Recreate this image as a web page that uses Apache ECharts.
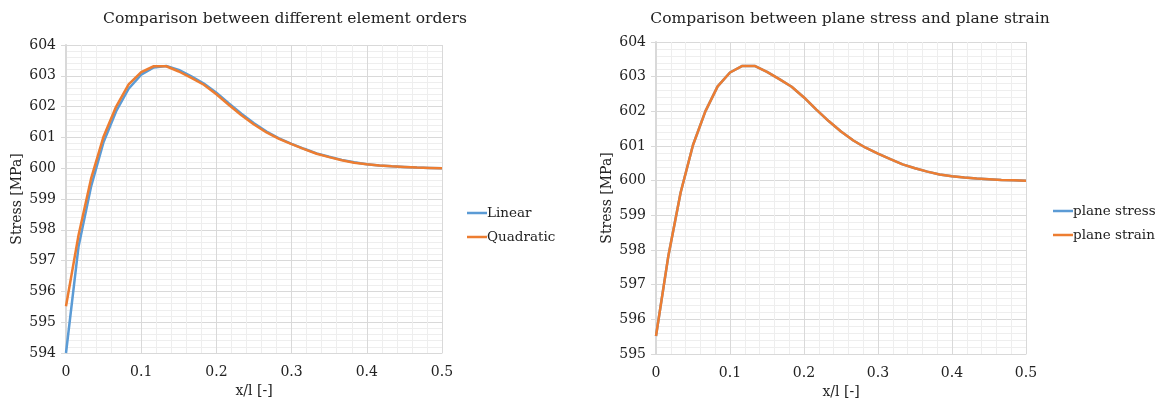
<!DOCTYPE html>
<html>
<head>
<meta charset="utf-8">
<script src="https://cdn.jsdelivr.net/npm/echarts@6/dist/echarts.min.js"></script>
<style>html,body{margin:0;padding:0;background:#fff;}#c{width:1173px;height:407px;}</style>
</head>
<body>
<div id="c"></div>
<script>
const xValues = [0, 0.0167, 0.0333, 0.05, 0.0667, 0.0833, 0.1, 0.1167, 0.1333, 0.15,
  0.1667, 0.1833, 0.2, 0.2167, 0.2333, 0.25, 0.2667, 0.2833, 0.3, 0.3167,
  0.3333, 0.35, 0.3667, 0.3833, 0.4, 0.4167, 0.4333, 0.45, 0.4667, 0.4833, 0.5];
const linear = [594.0, 597.46, 599.40, 600.85, 601.85, 602.58, 603.04, 603.27, 603.32, 603.19,
  602.98, 602.75, 602.45, 602.10, 601.77, 601.46, 601.19, 600.97, 600.79, 600.63,
  600.48, 600.37, 600.27, 600.19, 600.13, 600.09, 600.06, 600.04, 600.02, 600.01, 600.0];
const quadratic = [595.52, 597.83, 599.66, 601.03, 602.0, 602.72, 603.12, 603.31, 603.31, 603.14,
  602.93, 602.71, 602.40, 602.05, 601.72, 601.42, 601.16, 600.95, 600.78, 600.62,
  600.47, 600.36, 600.26, 600.18, 600.125, 600.09, 600.06, 600.04, 600.02, 600.01, 600.0];
const planeStress = [595.52, 597.83, 599.66, 601.03, 602.0, 602.72, 603.12, 603.31, 603.31, 603.14,
  602.93, 602.71, 602.40, 602.05, 601.72, 601.42, 601.16, 600.95, 600.78, 600.62,
  600.47, 600.36, 600.26, 600.18, 600.125, 600.09, 600.06, 600.04, 600.02, 600.01, 600.0];
const planeStrain = [595.52, 597.83, 599.66, 601.03, 602.0, 602.72, 603.12, 603.31, 603.31, 603.14,
  602.93, 602.71, 602.40, 602.05, 601.72, 601.42, 601.16, 600.95, 600.78, 600.62,
  600.47, 600.36, 600.26, 600.18, 600.125, 600.09, 600.06, 600.04, 600.02, 600.01, 600.0];
const titles = ['Comparison between different element orders', 'Comparison between plane stress and plane strain'];
const seriesNames = [['Linear', 'Quadratic'], ['plane stress', 'plane strain']];
const xName = 'x/l [-]';
const yName = 'Stress [MPa]';

const FONT = 'DejaVu Serif';
const BLUE = '#5b9bd5', ORANGE = '#ed7d31';
const pair = (ys) => xValues.map((x, i) => [x, ys[i]]);

function xAxis(gi) {
  return {
    type: 'value', gridIndex: gi, min: 0, max: 0.5, interval: 0.1,
    name: xName, nameLocation: 'middle', nameGap: 30,
    nameTextStyle: {fontFamily: FONT, fontSize: 14, color: '#222'},
    axisLine: {show: true, lineStyle: {color: '#d9d9d9', width: 1}},
    axisTick: {show: false},
    axisLabel: {fontFamily: FONT, fontSize: 14, color: '#222', margin: 12},
    splitLine: {show: true, lineStyle: {color: '#d9d9d9', width: 1}},
    minorTick: {show: false, splitNumber: 5},
    minorSplitLine: {show: true, lineStyle: {color: '#eeeeee', width: 1}}
  };
}
function yAxis(gi, min) {
  return {
    type: 'value', gridIndex: gi, min: min, max: 604, interval: 1,
    name: yName, nameLocation: 'middle', nameGap: 42, nameRotate: 90,
    nameTextStyle: {fontFamily: FONT, fontSize: 14, color: '#222'},
    axisLine: {show: true, lineStyle: {color: '#d9d9d9', width: 2}},
    axisTick: {show: true, length: 5, lineStyle: {color: '#d9d9d9'}},
    axisLabel: {fontFamily: FONT, fontSize: 14, color: '#222', margin: 10},
    splitLine: {show: true, lineStyle: {color: '#d9d9d9', width: 1}},
    minorTick: {show: false, splitNumber: 5},
    minorSplitLine: {show: true, lineStyle: {color: '#eeeeee', width: 1}}
  };
}
function line(name, data, color, xi) {
  return {
    type: 'line', name: name, xAxisIndex: xi, yAxisIndex: xi, data: pair(data),
    showSymbol: false, symbol: 'none', smooth: false, animation: false,
    lineStyle: {color: color, width: 2.5}, itemStyle: {color: color}
  };
}
const legendBase = {
  orient: 'vertical', icon: 'rect', itemWidth: 20, itemHeight: 2.5, itemGap: 10,
  textStyle: {fontFamily: FONT, fontSize: 13.5, color: '#222', padding: [0, 0, 0, -5]}
};

const chart = echarts.init(document.getElementById('c'), null, {renderer: 'canvas'});
chart.setOption({
  animation: false,
  backgroundColor: '#fff',
  title: [
    {text: titles[0], left: 280, top: 6, textAlign: 'center',
     textStyle: {fontFamily: FONT, fontSize: 15.5, fontWeight: 'normal', color: '#222'}},
    {text: titles[1], left: 845, top: 6, textAlign: 'center',
     textStyle: {fontFamily: FONT, fontSize: 15.5, fontWeight: 'normal', color: '#222'}}
  ],
  legend: [
    Object.assign({}, legendBase, {data: seriesNames[0], left: 462, top: 201}),
    Object.assign({}, legendBase, {data: seriesNames[1], left: 1048, top: 199})
  ],
  grid: [
    {left: 66, right: 731, top: 45, bottom: 54, containLabel: false},
    {left: 656, right: 147, top: 42, bottom: 53, containLabel: false}
  ],
  xAxis: [xAxis(0), xAxis(1)],
  yAxis: [yAxis(0, 594), yAxis(1, 595)],
  series: [
    line(seriesNames[0][0], linear, BLUE, 0),
    line(seriesNames[0][1], quadratic, ORANGE, 0),
    line(seriesNames[1][0], planeStress, BLUE, 1),
    line(seriesNames[1][1], planeStrain, ORANGE, 1)
  ]
});
</script>
</body>
</html>
